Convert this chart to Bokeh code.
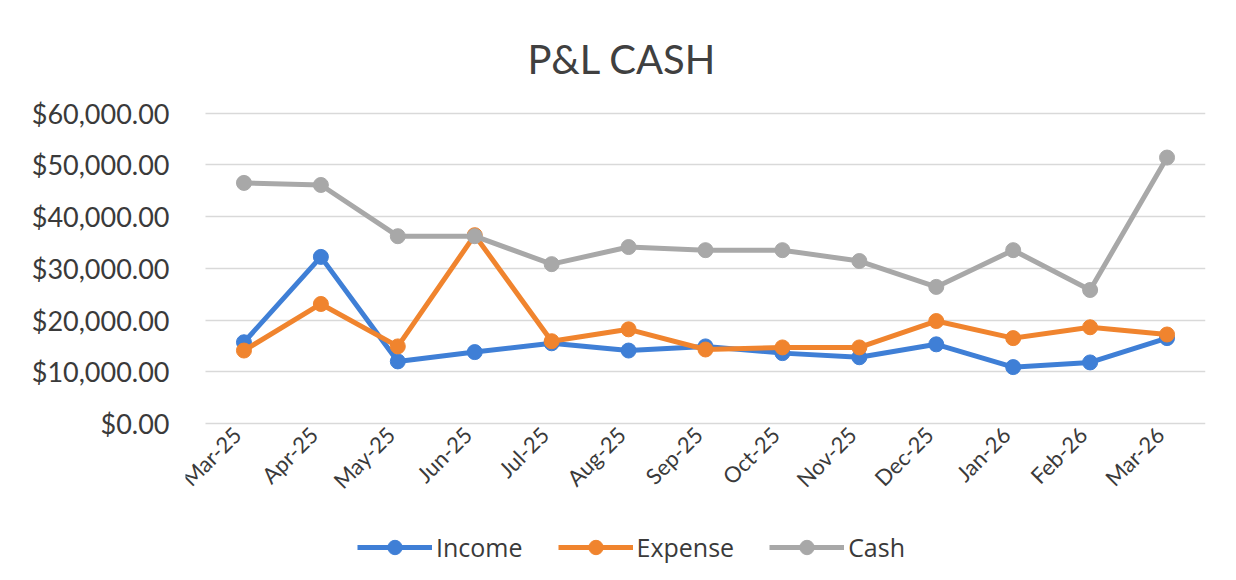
from bokeh.plotting import figure
from bokeh.models import (NumeralTickFormatter, Legend, LegendItem, FixedTicker, Title,
                          ColumnDataSource, Range1d)
from bokeh.core.properties import value
from bokeh.embed import file_html
from bokeh.resources import INLINE
import math

months = ["Mar-25", "Apr-25", "May-25", "Jun-25", "Jul-25", "Aug-25", "Sep-25",
          "Oct-25", "Nov-25", "Dec-25", "Jan-26", "Feb-26", "Mar-26"]
income = [15700, 32200, 12000, 13800, 15500, 14100, 14900, 13600, 12800, 15300, 10900, 11800, 16500]
expense = [14100, 23100, 14900, 36400, 15900, 18200, 14300, 14700, 14700, 19800, 16500, 18600, 17200]
cash = [46500, 46100, 36200, 36200, 30800, 34100, 33500, 33500, 31400, 26400, 33500, 25800, 51400]
y_ticks = [0, 10000, 20000, 30000, 40000, 50000, 60000]

FONT = "Lato"
xs = list(range(len(months)))
n = len(months)

# frame extends below $0 (and a little to the left) so that month labels and
# legend sit inside it
p = figure(x_range=Range1d(-0.76, n - 0.5), y_range=(-28800, 60300),
           frame_width=1020, frame_height=461,
           output_backend="svg", toolbar_location=None,
           min_border_left=185, min_border_right=25, min_border_top=111,
           min_border_bottom=3)
p.outline_line_color = None
p.background_fill_color = "white"
p.border_fill_color = "white"

p.yaxis.ticker = FixedTicker(ticks=y_ticks)
p.yaxis.formatter = NumeralTickFormatter(format="$0,0.00")
p.yaxis.axis_line_color = None
p.yaxis.major_tick_line_color = None
p.yaxis.minor_tick_line_color = None
p.yaxis.major_label_text_font = FONT
p.yaxis.major_label_text_font_size = "27px"
p.yaxis.major_label_text_color = "#3a3a3a"
p.yaxis.major_label_standoff = 10

p.xaxis.visible = False
p.xgrid.grid_line_color = None
p.ygrid.grid_line_color = "#d9d9d9"
p.ygrid.grid_line_width = 1.5
try:
    p.ygrid.cross_bounds = (-0.5, n - 0.5)
except Exception:
    pass

# month tick labels, rotated 45 degrees
lab_src = ColumnDataSource(dict(x=xs, y=[-1400] * n, t=months))
p.text(x="x", y="y", text="t", source=lab_src, angle=math.pi / 4,
       text_align="right", text_baseline="middle", text_font=value(FONT),
       text_font_size="22px", text_color="#3a3a3a", x_offset=-7)

series = [("Income", income, "#3f7fd6"),
          ("Expense", expense, "#f0842e"),
          ("Cash", cash, "#a8a8a8")]
items = []
for name, vals, col in series:
    l = p.line(xs, vals, line_color=col, line_width=5)
    c = p.scatter(xs, vals, size=15, fill_color=col, line_color=col)
    items.append(LegendItem(label=name, renderers=[l, c]))

legend = Legend(items=items, orientation="horizontal", location=(172, 7))
legend.label_text_font = "Open Sans"
legend.label_text_font_size = "25px"
legend.label_text_color = "#3a3a3a"
legend.glyph_width = 75
legend.glyph_height = 36
legend.spacing = 35
legend.label_standoff = 4
legend.padding = 5
legend.margin = 0
legend.border_line_color = None
legend.background_fill_alpha = 0
p.add_layout(legend, "center")

title = Title(text="P&L CASH", align="left", offset=342, standoff=58,
              text_font=FONT, text_font_size="40px", text_font_style="normal",
              text_color="#404040")
p.add_layout(title, "above")

open("out.html", "w").write(file_html(p, INLINE))
